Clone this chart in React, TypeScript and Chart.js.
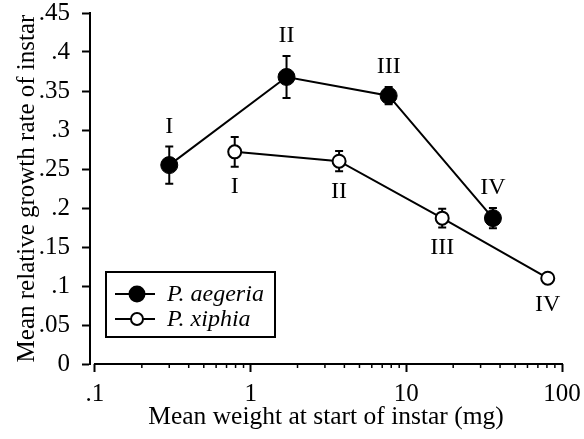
import React, { useEffect, useRef } from "react";
import { Chart, registerables } from "chart.js";

Chart.register(...registerables);

// ---- data ----
const instarLabels = ["I", "II", "III", "IV"];
const seriesNames = ["P. aegeria", "P. xiphia"];
const aegeriaX = [0.3, 1.7, 7.7, 36];
const aegeriaY = [0.255, 0.368, 0.344, 0.187];
const aegeriaErr = [0.024, 0.027, 0.011, 0.013];
const xiphiaX = [0.79, 3.7, 17, 81];
const xiphiaY = [0.272, 0.26, 0.187, 0.11];
const xiphiaErr = [0.019, 0.013, 0.012, 0];

const xMajorTicks = [0.1, 1, 10, 100];
const xTickLabels = [".1", "1", "10", "100"];
const yTickLabels = ["0", ".05", ".1", ".15", ".2", ".25", ".3", ".35", ".4", ".45"];
const xAxisMin = 0.0929;
const xAxisMax = 100;
const yAxisMin = 0;
const yAxisMax = 0.45;
const yStep = 0.05;

const xTitle = "Mean weight at start of instar (mg)";
const yTitle = "Mean relative growth rate of instar";

const FONT = "'Liberation Serif', 'Times New Roman', serif";

const isMajor = (v: number) => xMajorTicks.some((m) => Math.abs(m - v) / m < 1e-6);

const allXTicks: number[] = (() => {
  const out: number[] = [];
  for (let d = 0; d < xMajorTicks.length - 1; d++) {
    for (let k = 1; k <= 9; k++) out.push(xMajorTicks[d] * k);
  }
  out.push(xMajorTicks[xMajorTicks.length - 1]);
  return out;
})();

const errors = [aegeriaErr, xiphiaErr];

const customPlugin = {
  id: "custom",
  beforeDatasetsDraw(chart: any) {
    const ctx = chart.ctx;
    const xs = chart.scales.x;
    const ys = chart.scales.y;
    ctx.save();
    ctx.strokeStyle = "#000";
    ctx.lineWidth = 2;
    // x axis line starting at first major tick
    const x0 = xs.getPixelForValue(xMajorTicks[0]);
    const yb = chart.chartArea.bottom;
    ctx.beginPath();
    ctx.moveTo(x0 - 1, yb);
    ctx.lineTo(chart.chartArea.right + 1, yb);
    ctx.stroke();
    // minor ticks
    ctx.lineWidth = 1.5;
    allXTicks.forEach((v) => {
      if (isMajor(v)) return;
      const px = xs.getPixelForValue(v);
      ctx.beginPath();
      ctx.moveTo(px, yb);
      ctx.lineTo(px, yb + 4);
      ctx.stroke();
    });
    // error bars
    ctx.lineWidth = 2;
    chart.data.datasets.forEach((ds: any, di: number) => {
      ds.data.forEach((p: any, i: number) => {
        const e = errors[di][i];
        if (!e) return;
        const px = xs.getPixelForValue(p.x);
        const top = ys.getPixelForValue(p.y + e);
        const bot = ys.getPixelForValue(p.y - e);
        ctx.beginPath();
        ctx.moveTo(px, top);
        ctx.lineTo(px, bot);
        ctx.moveTo(px - 4, top);
        ctx.lineTo(px + 4, top);
        ctx.moveTo(px - 4, bot);
        ctx.lineTo(px + 4, bot);
        ctx.stroke();
      });
    });
    ctx.restore();
  },
  afterDraw(chart: any) {
    const ctx = chart.ctx;
    const xs = chart.scales.x;
    const ys = chart.scales.y;
    const ca = chart.chartArea;
    ctx.save();
    ctx.fillStyle = "#000";
    ctx.font = `24px ${FONT}`;
    ctx.textAlign = "center";
    ctx.textBaseline = "middle";
    // instar labels
    chart.data.datasets.forEach((ds: any, di: number) => {
      ds.data.forEach((p: any, i: number) => {
        const e = errors[di][i];
        const px = xs.getPixelForValue(p.x);
        if (di === 0) {
          const top = Math.min(ys.getPixelForValue(p.y + e), ys.getPixelForValue(p.y) - ds.pointRadius);
          ctx.fillText(instarLabels[i], px, top - 20);
        } else {
          const bot = Math.max(ys.getPixelForValue(p.y - e), ys.getPixelForValue(p.y) + ds.pointRadius);
          ctx.fillText(instarLabels[i], px, bot + 20);
        }
      });
    });
    // legend
    const lx = ca.left + 16;
    const ly = ca.top + 259;
    const lw = 169;
    const lh = 65;
    ctx.lineWidth = 2;
    ctx.strokeStyle = "#000";
    ctx.strokeRect(lx, ly, lw, lh);
    ctx.textAlign = "left";
    ctx.font = `italic 24px ${FONT}`;
    chart.data.datasets.forEach((ds: any, di: number) => {
      const ry = ly + 22 + di * 25;
      ctx.beginPath();
      ctx.moveTo(lx + 9, ry);
      ctx.lineTo(lx + 49, ry);
      ctx.stroke();
      ctx.beginPath();
      ctx.arc(lx + 31, ry, di === 0 ? 7.5 : 6, 0, Math.PI * 2);
      ctx.fillStyle = ds.pointBackgroundColor;
      ctx.fill();
      ctx.stroke();
      ctx.fillStyle = "#000";
      ctx.fillText(ds.label, lx + 61, ry + 1);
    });
    ctx.restore();
  },
};

export default function App() {
  const ref = useRef<HTMLCanvasElement>(null);
  useEffect(() => {
    if (!ref.current) return;
    const chart = new Chart(ref.current, {
      type: "line",
      data: {
        datasets: [
          {
            label: seriesNames[0],
            data: aegeriaX.map((x, i) => ({ x, y: aegeriaY[i] })),
            borderColor: "#000",
            borderWidth: 2,
            pointRadius: 8.5,
            pointBackgroundColor: "#000",
            pointBorderColor: "#000",
            pointBorderWidth: 1,
            fill: false,
          } as any,
          {
            label: seriesNames[1],
            data: xiphiaX.map((x, i) => ({ x, y: xiphiaY[i] })),
            borderColor: "#000",
            borderWidth: 2,
            pointRadius: 6.5,
            pointBackgroundColor: "#fff",
            pointBorderColor: "#000",
            pointBorderWidth: 2,
            fill: false,
          } as any,
        ],
      },
      options: {
        animation: false,
        responsive: true,
        maintainAspectRatio: false,
        layout: { padding: { left: 0, right: 22, top: 13, bottom: 0 } },
        plugins: { legend: { display: false }, tooltip: { enabled: false } },
        scales: {
          x: {
            type: "logarithmic",
            min: xAxisMin,
            max: xAxisMax,
            afterBuildTicks: (scale: any) => {
              scale.ticks = allXTicks.map((v) => ({ value: v, major: isMajor(v) }));
            },
            afterFit: (scale: any) => {
              scale.height = 75;
              scale.paddingLeft = 0;
              scale.paddingRight = 0;
            },
            border: { display: false },
            grid: {
              drawOnChartArea: false,
              drawTicks: true,
              tickLength: 8,
              tickWidth: 2,
              tickColor: (c: any) => (c.tick && isMajor(c.tick.value) ? "#000" : "rgba(0,0,0,0)"),
            },
            ticks: {
              autoSkip: false,
              maxRotation: 0,
              padding: 10,
              color: "#000",
              font: { family: FONT, size: 25, lineHeight: 1 },
              callback: (v: any) => {
                const i = xMajorTicks.findIndex((m) => Math.abs(m - v) / m < 1e-6);
                return i >= 0 ? xTickLabels[i] : "";
              },
            },
            title: {
              display: true,
              text: xTitle,
              color: "#000",
              font: { family: FONT, size: 25.5 },
              padding: { top: 0, bottom: 6 },
            },
          },
          y: {
            min: yAxisMin,
            max: yAxisMax,
            afterFit: (scale: any) => {
              scale.width = 90;
              scale.paddingTop = 0;
              scale.paddingBottom = 0;
            },
            border: { display: true, color: "#000", width: 2 },
            grid: {
              drawOnChartArea: false,
              drawTicks: true,
              tickLength: 8,
              tickWidth: 2,
              tickColor: "#000",
            },
            ticks: {
              stepSize: yStep,
              padding: 12,
              color: "#000",
              font: { family: FONT, size: 25, lineHeight: 1 },
              callback: (_v: any, i: number) => yTickLabels[i],
            },
            title: {
              display: true,
              text: yTitle,
              color: "#000",
              font: { family: FONT, size: 25 },
              padding: { top: 12, bottom: 0 },
            },
          },
        },
      },
      plugins: [customPlugin],
    });
    return () => chart.destroy();
  }, []);
  return (
    <div style={{ position: "absolute", left: 0, top: 0, width: 584, height: 439, background: "#fff" }}>
      <canvas ref={ref} />
    </div>
  );
}
